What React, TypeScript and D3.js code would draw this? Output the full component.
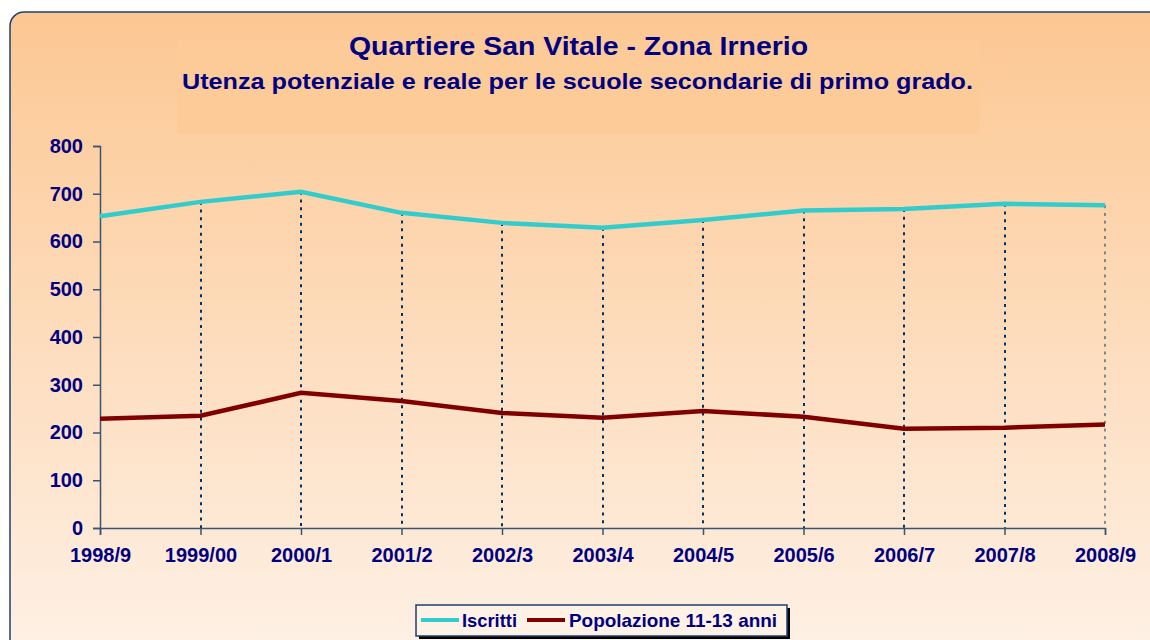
import React, { useEffect, useRef } from "react";
import * as d3 from "d3";

const categories = ["1998/9", "1999/00", "2000/1", "2001/2", "2002/3", "2003/4", "2004/5", "2005/6", "2006/7", "2007/8", "2008/9"];
const iscritti = [653, 683, 704, 660, 639, 629, 645, 665, 668, 679, 676];
const popolazione = [229, 235, 283, 266, 241, 231, 245, 233, 208, 210, 217];
const yTicks = [0, 100, 200, 300, 400, 500, 600, 700, 800];
const seriesNames = ["Iscritti", "Popolazione 11-13 anni"];
const title = "Quartiere San Vitale - Zona Irnerio";
const subtitle = "Utenza potenziale e reale per le scuole secondarie di primo grado.";

const W = 1150, H = 640;
const NAVY = "#000080";
const FONT = "'Liberation Sans', Arial, sans-serif";

export default function App() {
  const ref = useRef<SVGSVGElement>(null);
  useEffect(() => {
    const svg = d3.select(ref.current);
    svg.selectAll("*").remove();
    const defs = svg.append("defs");
    const g = defs.append("linearGradient").attr("id", "bg").attr("x1", 0).attr("y1", 0).attr("x2", 0).attr("y2", 1);
    g.append("stop").attr("offset", "0%").attr("stop-color", "#FCC792");
    g.append("stop").attr("offset", "100%").attr("stop-color", "#FEF2E8");

    svg.append("rect").attr("x", 0).attr("y", 0).attr("width", W).attr("height", H).attr("fill", "#fff");
    svg.append("rect").attr("x", 10).attr("y", 12).attr("width", 1170).attr("height", 660)
      .attr("rx", 14).attr("fill", "url(#bg)").attr("stroke", "#1F3F6F").attr("stroke-width", 1.5);

    // title box
    svg.append("rect").attr("x", 177).attr("y", 40).attr("width", 803).attr("height", 93).attr("fill", "#FDCB98");
    svg.append("text").attr("x", 578.5).attr("y", 55).attr("text-anchor", "middle")
      .attr("font-family", FONT).attr("font-weight", "bold").attr("font-size", 25)
      .attr("textLength", 459).attr("lengthAdjust", "spacingAndGlyphs").attr("fill", NAVY).text(title);
    svg.append("text").attr("x", 577.5).attr("y", 89).attr("text-anchor", "middle")
      .attr("font-family", FONT).attr("font-weight", "bold").attr("font-size", 22.5)
      .attr("textLength", 791).attr("lengthAdjust", "spacingAndGlyphs").attr("fill", NAVY).text(subtitle);

    const x = d3.scalePoint<string>().domain(categories).range([100, 1105]);
    const y = d3.scaleLinear().domain([0, 800]).range([528, 146]);

    // drop lines
    const drop = svg.append("g");
    categories.forEach((c, i) => {
      if (i === 0) return;
      const last = i === categories.length - 1;
      const xx = Math.round(x(c)!);
      drop.append("line").attr("x1", xx).attr("x2", xx)
        .attr("y1", y(iscritti[i])).attr("y2", y(0))
        .attr("stroke", "#003366").attr("stroke-width", last ? 1 : 2).attr("stroke-dasharray", "3,4.7");
    });

    // axes
    const yAxis = svg.append("g").attr("transform", "translate(100,0)")
      .call(d3.axisLeft(y).tickValues(yTicks).tickSize(7).tickPadding(10));
    yAxis.select(".domain").attr("stroke", "#3A5572").attr("stroke-width", 1.5);
    yAxis.selectAll(".tick line").attr("stroke", "#3A5572").attr("stroke-width", 1.5);
    yAxis.selectAll("text").attr("font-family", FONT).attr("font-weight", "bold").attr("font-size", 20).attr("fill", NAVY);

    const xAxis = svg.append("g").attr("transform", "translate(0,528)")
      .call(d3.axisBottom(x).tickSize(7).tickPadding(13));
    xAxis.select(".domain").attr("stroke", "#3A5572").attr("stroke-width", 1.5);
    xAxis.selectAll(".tick line").attr("stroke", "#3A5572").attr("stroke-width", 1.5);
    xAxis.selectAll("text").attr("font-family", FONT).attr("font-weight", "bold").attr("font-size", 20).attr("fill", NAVY);

    const line = (vals: number[]) => d3.line<number>().x((_, i) => x(categories[i])!).y(d => y(d))(vals);
    svg.append("path").attr("d", line(iscritti)).attr("fill", "none").attr("stroke", "#33CCCC").attr("stroke-width", 4.5);
    svg.append("path").attr("d", line(popolazione)).attr("fill", "none").attr("stroke", "#800000").attr("stroke-width", 4.5);

    // legend
    const lg = svg.append("g");
    lg.append("rect").attr("x", 419).attr("y", 608).attr("width", 371).attr("height", 31).attr("fill", "#000");
    lg.append("rect").attr("x", 416).attr("y", 605).attr("width", 371).attr("height", 31)
      .attr("fill", "#FEF1E6").attr("stroke", "#1F3F6F").attr("stroke-width", 1.5);
    const items = [
      { name: seriesNames[0], color: "#33CCCC", lx: 421, tx: 462, len: 55 },
      { name: seriesNames[1], color: "#800000", lx: 527, tx: 569, len: 208 },
    ];
    items.forEach(it => {
      lg.append("line").attr("x1", it.lx).attr("x2", it.lx + 38).attr("y1", 620).attr("y2", 620)
        .attr("stroke", it.color).attr("stroke-width", 4);
      lg.append("text").attr("x", it.tx).attr("y", 627).attr("font-family", FONT).attr("font-weight", "bold")
        .attr("font-size", 19).attr("textLength", it.len).attr("lengthAdjust", "spacingAndGlyphs")
        .attr("fill", NAVY).text(it.name);
    });
  }, []);
  return <svg ref={ref} width={W} height={H} style={{ display: "block", position: "absolute", left: 0, top: 0 }} />;
}
